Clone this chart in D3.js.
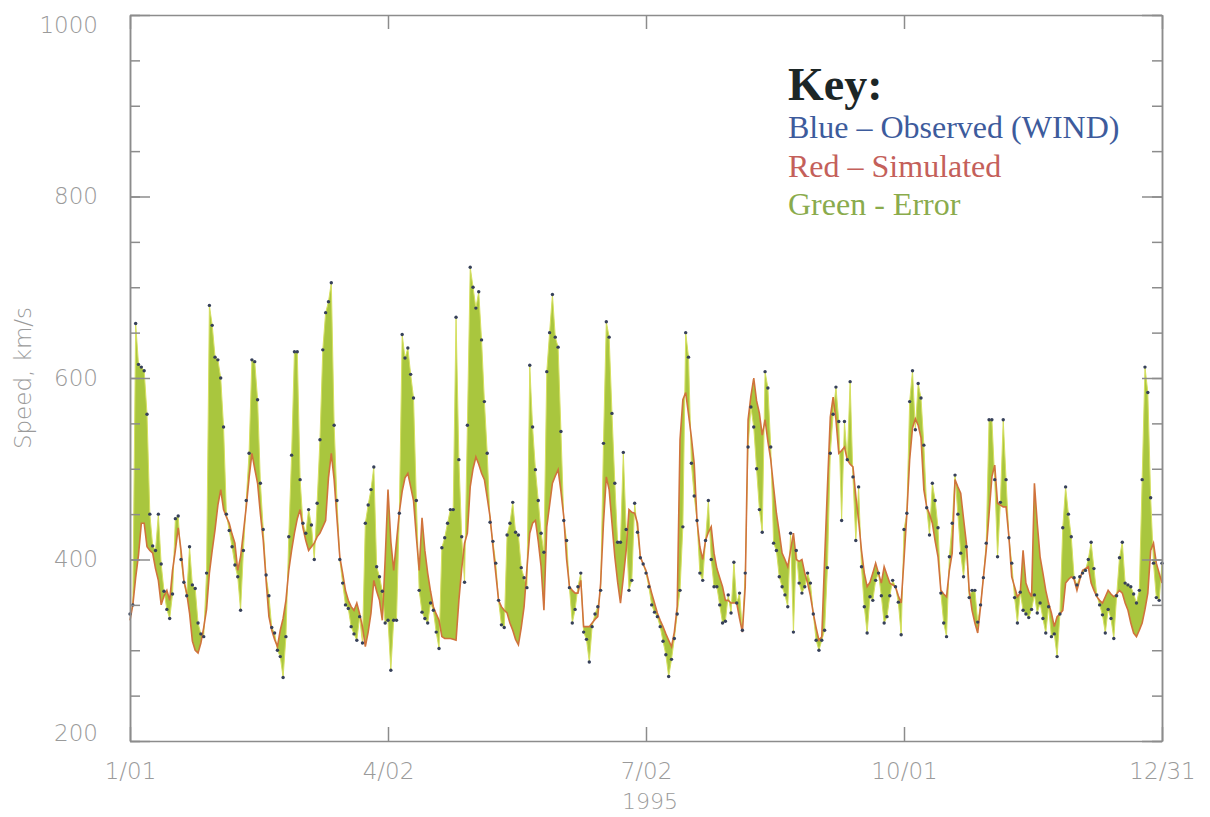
<!DOCTYPE html>
<html>
<head>
<meta charset="utf-8">
<script src="https://cdn.jsdelivr.net/npm/d3@7"></script>
<style>
  body { margin: 0; background: #fff; }
  svg { display: block; }
  .tick text { fill: #9a9a9a; font-family: "DejaVu Sans", sans-serif; font-weight: 200; }
  .axis path, .axis line { stroke: #8c8c8c; stroke-width: 1.5; }
</style>
</head>
<body>
<svg width="1210" height="817"></svg>
<script>
var svg = d3.select("svg");

// day-of-year tick positions and their labels
var tickDays = [0, 91, 182, 273, 364];
var tickLabels = ["1/01", "4/02", "7/02", "10/01", "12/31"];
var yMajor = [200, 400, 600, 800, 1000];

// observed (WIND) daily speeds, 1995, km/s
var observed = [
  340,350,660,615,612,608,560,450,415,410, 450,395,365,345,335,362,445,448,400,375,
  360,414,372,368,330,318,315,385,680,658, 623,620,600,546,450,432,414,394,381,344,
  410,465,517,620,618,576,484,433,383,360, 325,319,300,293,270,315,425,515,629,629,
  488,440,429,455,438,400,462,532,631,672, 684,705,548,465,400,374,350,346,326,318,
  311,337,308,440,460,477,502,392,381,365, 330,333,278,333,333,451,648,622,633,604,
  578,465,366,342,335,330,352,344,320,302, 413,424,440,455,455,667,510,425,375,548,
  722,700,677,695,642,574,517,441,420,396, 355,328,325,427,440,463,430,427,391,380,
  369,614,546,499,465,429,408,607,650,692, 645,634,541,443,421,369,330,345,370,385,
  320,312,287,326,340,348,366,528,662,645, 561,484,419,419,518,433,366,377,462,430,
  402,395,385,370,350,342,337,326,310,295, 271,290,313,340,366,436,650,623,506,470,
  443,385,377,421,465,400,370,370,350,330, 332,361,341,397,352,363,322,385,524,568,
  546,500,455,430,607,589,524,418,410,381, 370,361,348,429,320,410,374,363,370,385,
  374,340,311,300,311,322,391,517,560,590, 552,443,552,510,596,491,421,480,392,348,
  319,359,355,377,385,360,330,337,360,377, 370,353,317,433,451,574,608,543,594,578,
  526,457,427,484,465,435,363,330,315,403, 440,493,450,407,381,414,358,366,366,331,
  350,380,418,554,554,488,403,463,554,488, 424,396,358,330,364,344,340,336,345,361,
  341,352,335,319,348,315,318,293,340,435, 480,450,425,380,372,381,385,388,400,419,
  390,361,350,339,319,345,335,313,360,402, 419,374,372,370,362,352,366,488,612,584,
  468,396,358,355,396
];

// simulated daily speeds
var simulated = [
  333,350,380,405,440,440,414,410,407,390, 377,350,360,366,355,388,410,435,410,377,
  363,341,310,300,297,308,325,345,385,410, 433,460,477,455,447,440,428,418,388,403,
  430,458,490,517,500,484,450,421,377,337, 322,312,304,322,335,355,388,410,429,445,
  455,435,421,410,414,418,425,429,436,443, 490,517,488,445,403,385,366,355,348,344,
  352,340,326,304,320,341,377,365,355,333, 400,477,420,388,420,452,475,490,495,480,
  465,425,388,446,410,385,365,348,340,333, 315,313,313,313,312,311,355,390,418,429,
  480,500,513,505,495,488,468,447,415,385, 355,348,344,341,330,322,312,306,325,348,
  390,429,440,443,420,392,344,436,460,484, 492,499,475,447,400,370,366,363,363,377,
  326,326,326,330,334,337,374,440,491,477, 440,403,375,352,380,410,455,452,451,440,
  403,395,388,375,363,352,341,333,326,318, 311,304,320,348,532,576,584,560,535,506,
  443,414,400,421,430,436,407,390,380,370, 355,355,352,352,352,335,320,370,554,580,
  600,575,561,537,554,530,510,480,451,430, 407,400,392,410,429,400,398,400,385,374,
  360,341,325,311,315,400,480,557,579,554, 517,520,524,510,505,502,470,443,410,385,
  370,375,385,396,385,374,392,383,374,372, 370,360,352,400,450,510,545,555,548,534,
  477,458,450,440,420,403,366,362,359,388, 407,488,480,473,445,418,366,344,330,319,
  348,380,410,450,491,504,462,460,458,458, 425,381,370,359,363,410,374,365,359,484,
  440,403,385,366,352,341,326,337,340,344, 374,378,381,378,366,378,388,390,392,374,
  366,359,355,352,359,366,362,359,362,366, 363,352,344,330,319,315,322,330,345,363,
  410,418,396,385,374
];

var days = d3.range(observed.length);

var margin = { left: 130, right: 48, top: 15, bottom: 76 };
var width = 1210, height = 817;

var x = d3.scaleLinear().domain([0, 364]).range([margin.left, width - margin.right]);
var y = d3.scaleLinear().domain([200, 1000]).range([height - margin.bottom, margin.top]);

var plot = svg.append("g");

// error band between observed and simulated
plot.append("path")
    .datum(days)
    .attr("fill", "#a9c63e")
    .attr("d", d3.area()
        .x(function(d) { return x(d); })
        .y0(function(d) { return y(simulated[d]); })
        .y1(function(d) { return y(observed[d]); }));

plot.append("path")
    .datum(days)
    .attr("fill", "none")
    .attr("stroke", "#d6e060")
    .attr("stroke-width", 1)
    .attr("d", d3.line()
        .x(function(d) { return x(d); })
        .y(function(d) { return y(observed[d]); }));

plot.append("path")
    .datum(days)
    .attr("fill", "none")
    .attr("stroke", "#d0733c")
    .attr("stroke-width", 1.6)
    .attr("d", d3.line()
        .x(function(d) { return x(d); })
        .y(function(d) { return y(simulated[d]); }));

plot.selectAll("circle.obs")
    .data(days)
    .enter().append("circle")
    .attr("class", "obs")
    .attr("cx", function(d) { return x(d); })
    .attr("cy", function(d) { return y(observed[d]); })
    .attr("r", 1.7)
    .attr("fill", "#36405a");

// axes: ticks point inward on all four sides
var x0 = margin.left, x1 = width - margin.right;
var y0 = height - margin.bottom, y1 = margin.top;

var bottom = svg.append("g").attr("class", "axis")
    .attr("transform", "translate(0," + y0 + ")")
    .call(d3.axisBottom(x).tickValues(tickDays).tickSize(-14).tickSizeOuter(0).tickPadding(22)
        .tickFormat(function(d, i) { return tickLabels[i]; }));
bottom.selectAll("text").attr("font-size", 23);

svg.append("g").attr("class", "axis")
    .attr("transform", "translate(0," + y1 + ")")
    .call(d3.axisTop(x).tickValues(tickDays).tickSize(-14).tickSizeOuter(0).tickFormat(""));

var left = svg.append("g").attr("class", "axis")
    .attr("transform", "translate(" + x0 + ",0)")
    .call(d3.axisLeft(y).tickValues(yMajor).tickSize(-20).tickSizeOuter(0).tickPadding(32)
        .tickFormat(d3.format("d")));
// end labels sit inside the axis range, as in the original plot
left.selectAll("text")
    .attr("font-size", 23)
    .attr("y", function(d) { return d === 1000 ? 10 : d === 200 ? -8 : 0; });

svg.append("g").attr("class", "axis")
    .attr("transform", "translate(" + x0 + ",0)")
    .call(d3.axisLeft(y).ticks(16).tickSize(-10).tickSizeOuter(0).tickFormat(""));

svg.append("g").attr("class", "axis")
    .attr("transform", "translate(" + x1 + ",0)")
    .call(d3.axisRight(y).tickValues(yMajor).tickSize(-20).tickSizeOuter(0).tickFormat(""));

svg.append("g").attr("class", "axis")
    .attr("transform", "translate(" + x1 + ",0)")
    .call(d3.axisRight(y).ticks(16).tickSize(-10).tickSizeOuter(0).tickFormat(""));

svg.append("text")
    .attr("x", (x0 + x1) / 2 + 4)
    .attr("y", 809)
    .attr("text-anchor", "middle")
    .attr("font-family", "DejaVu Sans, sans-serif")
    .attr("font-weight", 200)
    .attr("font-size", 22)
    .attr("fill", "#9a9a9a")
    .text("1995");

svg.append("text")
    .attr("transform", "translate(31," + ((y0 + y1) / 2) + ") rotate(-90)")
    .attr("text-anchor", "middle")
    .attr("font-family", "DejaVu Sans, sans-serif")
    .attr("font-weight", 200)
    .attr("font-size", 23)
    .attr("fill", "#9a9a9a")
    .text("Speed, km/s");

// key
var key = svg.append("g").attr("font-family", "Liberation Serif, serif");
key.append("text").attr("x", 788).attr("y", 100)
    .attr("font-size", 46).attr("font-weight", "bold").attr("fill", "#1c2626")
    .text("Key:");
key.append("text").attr("x", 788).attr("y", 138)
    .attr("font-size", 32).attr("fill", "#3d5b9c")
    .text("Blue \u2013 Observed (WIND)");
key.append("text").attr("x", 788).attr("y", 177)
    .attr("font-size", 32).attr("fill", "#c4605a")
    .text("Red \u2013 Simulated");
key.append("text").attr("x", 788).attr("y", 215)
    .attr("font-size", 32).attr("fill", "#8aab4c")
    .text("Green - Error");
</script>
</body>
</html>
